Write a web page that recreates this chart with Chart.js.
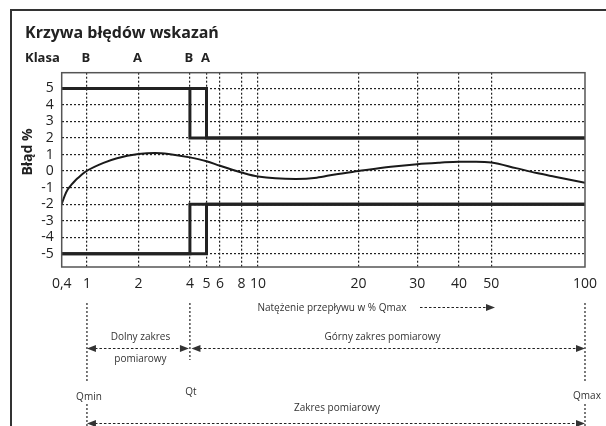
<!DOCTYPE html>
<html>
<head>
<meta charset="utf-8">
<script src="https://cdn.jsdelivr.net/npm/chart.js@4.4.0/dist/chart.umd.min.js"></script>
<style>
  html, body { margin: 0; padding: 0; background: #fff; }
</style>
</head>
<body>
<canvas id="chart" width="606" height="426"></canvas>
<script>
// --- Data ---
const flowTicks = [0.4, 1, 2, 4, 5, 6, 8, 10, 20, 30, 40, 50, 100];
const flowLabels = ['0,4', '1', '2', '4', '5', '6', '8', '10', '20', '30', '40', '50', '100'];
const errorTicks = [-5, -4, -3, -2, -1, 0, 1, 2, 3, 4, 5];

const curveFlow  = [0.4, 0.45, 0.5, 0.57, 0.65, 0.73, 0.85, 1, 1.25, 1.5, 2, 2.5, 3, 4, 5, 6, 8, 10, 13, 15, 17, 20, 25, 30, 35, 40, 45, 50, 60, 70, 80, 100];
const curveError = [-2.0, -1.45, -1.1, -0.82, -0.58, -0.4, -0.18, 0.02, 0.5, 0.78, 1.03, 1.1, 1.04, 0.83, 0.6, 0.32, -0.08, -0.33, -0.48, -0.4, -0.2, 0.0, 0.26, 0.42, 0.51, 0.57, 0.57, 0.52, 0.18, -0.12, -0.34, -0.7];

const classAFlow  = [0.4, 4, 4, 100];
const classBFlow  = [0.4, 5, 5, 100];
const upperLimit  = [5, 5, 2, 2];
const lowerLimit  = [-5, -5, -2, -2];

const classLabels = ['B', 'A', 'B', 'A'];
const classLabelFlow = [1, 2, 4, 5];

// --- piecewise log axis (the original drawing stretches the decades differently) ---
const axisBreaks = [0.4, 1, 10, 50, 100];
const axisUnits  = [0, 25.6, 199, 435.6, 530.6];
function toAxis(q) {
  for (let i = 1; i < axisBreaks.length; i++) {
    if (q <= axisBreaks[i] || i === axisBreaks.length - 1) {
      const a = axisBreaks[i - 1], b = axisBreaks[i];
      const f = Math.log(q / a) / Math.log(b / a);
      return axisUnits[i - 1] + f * (axisUnits[i] - axisUnits[i - 1]);
    }
  }
}
const pts = (xs, ys) => xs.map((q, i) => ({ x: toAxis(q), y: ys[i] }));

const INK = '#222';
const FONT = '"Open Sans", "Noto Sans", sans-serif';

function arrowHead(ctx, x, y, dir) {
  ctx.beginPath();
  ctx.moveTo(x, y);
  ctx.lineTo(x - dir * 9, y - 3.5);
  ctx.lineTo(x - dir * 9, y + 3.5);
  ctx.closePath();
  ctx.fill();
}
function dashedArrow(ctx, x1, x2, y, headLeft, headRight) {
  ctx.save();
  ctx.setLineDash([2.5, 2]);
  ctx.lineWidth = 1.2;
  ctx.beginPath();
  ctx.moveTo(x1 + (headLeft ? 8 : 0), y);
  ctx.lineTo(x2 - (headRight ? 8 : 0), y);
  ctx.stroke();
  ctx.restore();
  if (headLeft) arrowHead(ctx, x1, y, -1);
  if (headRight) arrowHead(ctx, x2, y, 1);
}
function vDotted(ctx, x, y1, y2) {
  ctx.save();
  ctx.setLineDash([2, 2]);
  ctx.lineWidth = 1.2;
  ctx.beginPath();
  ctx.moveTo(x, y1);
  ctx.lineTo(x, y2);
  ctx.stroke();
  ctx.restore();
}

const decorations = {
  id: 'decorations',
  afterDraw(chart) {
    const { ctx, chartArea: a, scales: { x } } = chart;
    ctx.save();
    ctx.fillStyle = INK;
    ctx.strokeStyle = INK;

    // outer frame (left + top visible)
    ctx.lineWidth = 2;
    ctx.strokeStyle = '#333';
    ctx.beginPath();
    ctx.moveTo(11, 430);
    ctx.lineTo(11, 10);
    ctx.lineTo(610, 10);
    ctx.stroke();

    // plot box
    ctx.lineWidth = 1.5;
    ctx.strokeStyle = '#555';
    ctx.strokeRect(a.left, a.top, a.right - a.left, a.bottom - a.top);
    ctx.strokeStyle = INK;

    // headings
    ctx.textBaseline = 'alphabetic';
    ctx.textAlign = 'left';
    ctx.font = 'bold 16px ' + FONT;
    ctx.fillText('Krzywa błędów wskazań', 25, 38);
    ctx.font = 'bold 13px ' + FONT;
    ctx.fillText('Klasa', 25, 62);
    ctx.textAlign = 'center';
    classLabels.forEach((t, i) => {
      ctx.fillText(t, x.getPixelForValue(toAxis(classLabelFlow[i])) - 1, 62);
    });

    // y title
    ctx.save();
    ctx.translate(28, 152);
    ctx.rotate(-Math.PI / 2);
    ctx.font = 'bold 14px ' + FONT;
    ctx.textBaseline = 'middle';
    ctx.fillText('Błąd %', 0, 0);
    ctx.restore();

    // range annotations below the axis
    const xMin = x.getPixelForValue(toAxis(1));
    const xT = x.getPixelForValue(toAxis(4));
    const xMax = x.getPixelForValue(toAxis(100));
    ctx.font = '10px ' + FONT;
    ctx.fillStyle = '#333';
    ctx.textBaseline = 'middle';
    ctx.textAlign = 'center';
    ctx.fillText('Natężenie przepływu w % Qmax', 332, 308);
    dashedArrow(ctx, 420, 495, 307.5, false, true);

    vDotted(ctx, xMin, 303, 382);
    vDotted(ctx, xMin, 404, 426);
    vDotted(ctx, xT, 303, 360);
    vDotted(ctx, xMax, 303, 382);
    vDotted(ctx, xMax, 404, 426);

    ctx.fillText('Dolny zakres', (xMin + xT) / 2 + 2, 337.5);
    ctx.fillText('pomiarowy', (xMin + xT) / 2 + 2, 359);
    dashedArrow(ctx, xMin, xT - 1, 348.5, true, true);
    ctx.fillText('Górny zakres pomiarowy', (xT + xMax) / 2 - 5, 337.5);
    dashedArrow(ctx, xT + 1.5, xMax, 348.5, true, true);

    ctx.fillText('Qmin', xMin + 2, 397);
    ctx.fillText('Qt', xT + 1, 392);
    ctx.fillText('Qmax', xMax + 2, 396);
    ctx.fillText('Zakres pomiarowy', (xMin + xMax) / 2 + 1, 408);
    dashedArrow(ctx, xMin, xMax, 423.5, true, true);

    ctx.restore();
  }
};

const limitStyle = {
  borderColor: INK, borderWidth: 3, pointRadius: 0, tension: 0,
  borderJoinStyle: 'miter', borderCapStyle: 'butt', fill: false
};

new Chart(document.getElementById('chart'), {
  type: 'line',
  data: {
    datasets: [
      { label: 'A górna', data: pts(classAFlow, upperLimit), ...limitStyle },
      { label: 'B górna', data: pts(classBFlow, upperLimit), ...limitStyle },
      { label: 'A dolna', data: pts(classAFlow, lowerLimit), ...limitStyle },
      { label: 'B dolna', data: pts(classBFlow, lowerLimit), ...limitStyle },
      {
        label: 'Błąd', data: pts(curveFlow, curveError),
        borderColor: '#1a1a1a', borderWidth: 2, pointRadius: 0,
        cubicInterpolationMode: 'monotone', fill: false
      }
    ]
  },
  options: {
    responsive: false,
    animation: false,
    layout: { padding: { left: 0, top: 72.7, right: 13.7, bottom: 129 } },
    plugins: { legend: { display: false }, tooltip: { enabled: false }, title: { display: false } },
    scales: {
      x: {
        type: 'linear',
        min: 0, max: axisUnits[axisUnits.length - 1],
        afterBuildTicks: s => { s.ticks = flowTicks.map(q => ({ value: toAxis(q) })); },
        afterFit: s => { s.height = 30; },
        ticks: {
          autoSkip: false, maxRotation: 0, padding: 9,
          color: INK, font: { family: FONT, size: 14 },
          callback: (v, i) => flowLabels[i]
        },
        grid: {
          drawTicks: false, lineWidth: 1.2,
          color: c => (c.index === 0 || c.index === flowTicks.length - 1) ? 'rgba(0,0,0,0)' : INK
        },
        border: { display: false, dash: [2, 2] }
      },
      y: {
        type: 'linear',
        min: -5.8, max: 5.95,
        afterBuildTicks: s => { s.ticks = errorTicks.map(v => ({ value: v })); },
        afterFit: s => { s.width = 61.7; },
        ticks: {
          autoSkip: false, padding: 8, color: INK, font: { family: FONT, size: 14 },
          callback: v => String(v)
        },
        grid: { drawTicks: false, lineWidth: 1.2, color: INK },
        border: { display: false, dash: [2, 2] }
      }
    }
  },
  plugins: [decorations]
});
</script>
</body>
</html>
